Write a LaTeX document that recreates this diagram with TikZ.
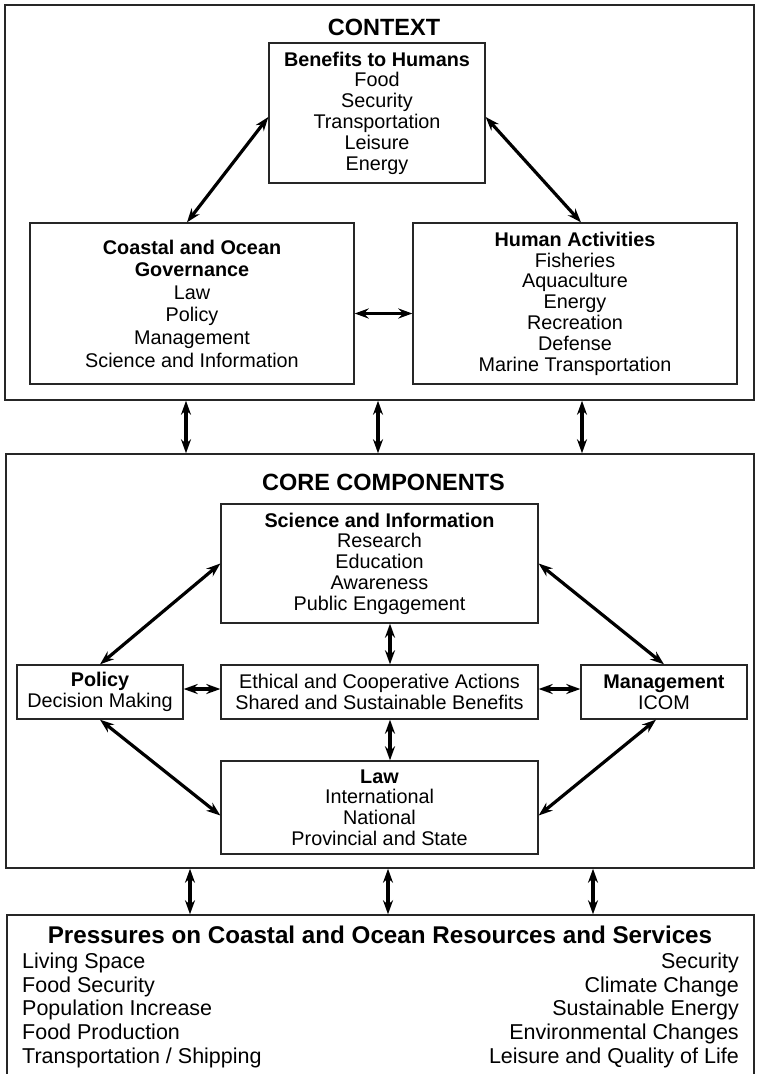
\documentclass[tikz,border=0pt]{standalone}
\usepackage{fontspec}
\setmainfont{Liberation Sans}
\usepackage{tikz}
\tikzset{
  box/.style      = {shape=rectangle, draw=black!85, line width=1.3pt,
                     inner sep=0pt, align=center,
                     font=\fontsize{19.8}{20.8}\selectfont},
  panel/.style    = {shape=rectangle, draw=black!85, line width=1.5pt,
                     inner sep=0pt},
  heading/.style  = {font=\fontsize{23.5}{26}\selectfont\bfseries,
                     inner sep=0pt, anchor=base},
  itemlist/.style = {font=\fontsize{21.5}{23.6}\selectfont, inner sep=0pt}
}
\usetikzlibrary{arrows.meta}

\begin{document}
\begin{tikzpicture}
  [
    x                 = 1pt,
    y                 = -1pt,
    twoway/.style     = {draw, line width=3.2pt,
                         {Stealth[length=14pt,width=10pt]}-{Stealth[length=14pt,width=10pt]}}
  ]
  \useasboundingbox (0,0) rectangle (756,1074);

  % the three panels
  \node [panel, minimum width=749pt, minimum height=395pt] (context) at (379.5,202.5) {};
  \node [panel, minimum width=748pt, minimum height=414pt] (core) at (380,661) {};
  \node [panel, minimum width=747pt, minimum height=165pt] (pressures) at (380.5,997.5) {};

  \node [heading] (contexttitle) at (384,35) {CONTEXT};
  \node [heading] (coretitle) at (383.5,490) {CORE COMPONENTS};

  % context
  \node [box, minimum width=216pt, minimum height=140pt] (benefits) at (377,113)
    {\textbf{Benefits to Humans}\\Food\\Security\\Transportation\\Leisure\\Energy};
  \node [box, minimum width=324pt, minimum height=161pt,
         font=\fontsize{19.8}{22.6}\selectfont] (governance) at (192,303.5)
    {\textbf{Coastal and Ocean}\\\textbf{Governance}\\Law\\Policy\\Management\\Science and Information};
  \node [box, minimum width=324pt, minimum height=161pt] (activities) at (575,303.5)
    {\textbf{Human Activities}\\Fisheries\\Aquaculture\\Energy\\Recreation\\Defense\\Marine Transportation};

  % core components
  \node [box, minimum width=317pt, minimum height=119pt] (science) at (379.5,563.5)
    {\textbf{Science and Information}\\Research\\Education\\Awareness\\Public Engagement};
  \node [box, minimum width=166pt, minimum height=54pt] (policy) at (100,692)
    {\textbf{Policy}\\Decision Making};
  \node [box, minimum width=317pt, minimum height=54pt] (ethics) at (379.5,692)
    {Ethical and Cooperative Actions\\Shared and Sustainable Benefits};
  \node [box, minimum width=166pt, minimum height=54pt] (management) at (664,692)
    {\textbf{Management}\\ICOM};
  \node [box, minimum width=317pt, minimum height=93pt] (law) at (379.5,807.5)
    {\textbf{Law}\\International\\National\\Provincial and State};

  % pressures
  \node [heading, font=\fontsize{24.2}{26}\selectfont\bfseries] (pressurestitle) at (380,943)
    {Pressures on Coastal and Ocean Resources and Services};
  \node [itemlist, anchor=north west, align=left] (leftlist) at (22,953)
    {Living Space\\Food Security\\Population Increase\\Food Production\\Transportation / Shipping};
  \node [itemlist, anchor=north east, align=right] (rightlist) at (739,953)
    {Security\\Climate Change\\Sustainable Energy\\Environmental Changes\\Leisure and Quality of Life};

  \path [every edge/.append style=twoway]
    ([yshift=-4pt]benefits.west) edge ([xshift=-5pt]governance.north)
    ([yshift=-4pt]benefits.east) edge ([xshift=6pt]activities.north)
    ([yshift=-10pt]governance.east) edge ([yshift=-10pt]activities.west)
    ([xshift=-193.5pt]context.south) edge ([xshift=-194pt]core.north)
    ([xshift=-1.5pt]context.south) edge ([xshift=-2pt]core.north)
    ([xshift=202.5pt]context.south) edge ([xshift=202pt]core.north)
    (policy.north) edge (science.west)
    (science.east) edge (management.north)
    ([yshift=3pt]policy.east) edge ([yshift=3pt]ethics.west)
    ([yshift=3pt]ethics.east) edge ([yshift=3pt]management.west)
    ([xshift=10.5pt]science.south) edge ([xshift=10.5pt]ethics.north)
    ([xshift=10.5pt]ethics.south) edge ([xshift=10.5pt]law.north)
    (policy.south) edge ([yshift=-8pt]law.west)
    ([xshift=-8pt]management.south) edge ([yshift=-8pt]law.east)
    ([xshift=-190pt]core.south) edge ([xshift=-190.5pt]pressures.north)
    ([xshift=8pt]core.south) edge ([xshift=7.5pt]pressures.north)
    ([xshift=213pt]core.south) edge ([xshift=212.5pt]pressures.north);
\end{tikzpicture}
\end{document}
